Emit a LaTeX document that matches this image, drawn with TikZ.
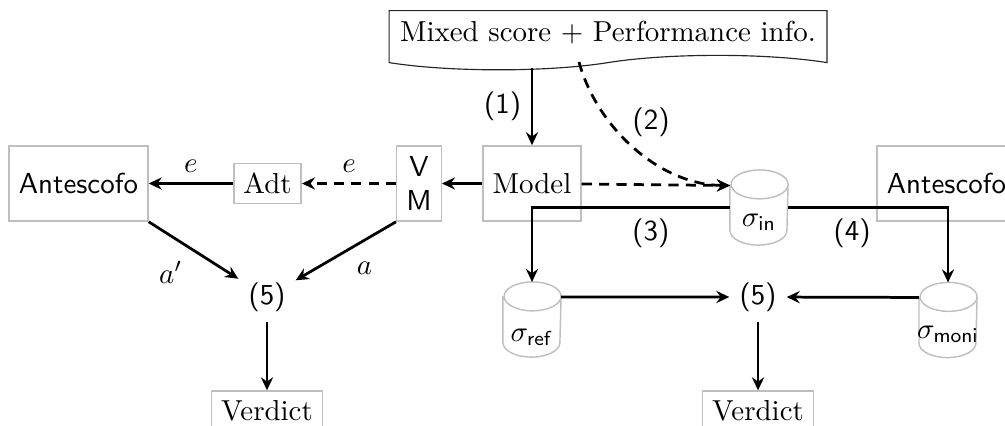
\documentclass[tikz,border=0pt]{standalone}
\usetikzlibrary{arrows.meta,shapes.symbols,calc}
\tikzset{
  px/.style={x=0.346pt,y=-0.346pt},
  box/.style={draw=black!25,line width=0.5pt,rectangle,inner sep=3.33pt},
  cyl/.style={rectangle,inner sep=0pt,minimum width=19.7pt,minimum height=25.6pt},
  arr/.style={line width=0.95pt,-{Stealth[length=4.5pt,width=4.2pt,inset=1.5pt]}},
  darr/.style={arr,dashed,dash pattern=on 3.5pt off 2.5pt},
  lab/.style={font=\sffamily},
}
\newcommand\mycyl[1]{%
  \draw[draw=black!25,line width=0.5pt] ([yshift=-5pt]#1.north west) -- ([yshift=5pt]#1.south west)
    arc[start angle=180,end angle=360,x radius=9.85pt,y radius=5pt]
    -- ([yshift=-5pt]#1.north east)
    arc[start angle=0,end angle=180,x radius=9.85pt,y radius=5pt]
    arc[start angle=180,end angle=360,x radius=9.85pt,y radius=5pt];}
\begin{document}
\begin{tikzpicture}[px]
\useasboundingbox (0,0) rectangle (1005,426);
% top tape
\node[tape,draw=black!85,line width=0.4pt,tape bend top=none,inner sep=3.8pt] (top) at (608,33) {Mixed score + Performance info.};
% boxes
\node[box,minimum width=48.1pt,minimum height=26pt,font=\sffamily] (antL) at (78.5,183.5) {Antescofo};
\node[box] (adt) at (267.5,183.5) {Adt};
\node[box,minimum width=15.2pt,minimum height=26pt,font=\sffamily,align=center] (vm) at (419,183.5) {V\\M};
\node[box,minimum width=33.9pt,minimum height=26pt] (model) at (532,183.5) {Model};
\node[box,minimum width=48.1pt,minimum height=26pt,font=\sffamily] (antR) at (946.5,183.5) {Antescofo};
\node[box,minimum width=37.4pt] (verL) at (267,411) {Verdict};
\node[box,minimum width=37.4pt] (verR) at (758,411) {Verdict};
\node[lab] (fiveL) at (267,297) {(5)};
\node[lab] (fiveR) at (758,297) {(5)};
% cylinders
\node[cyl] (sin) at (759,207.5) {};
\node[cyl] (sref) at (532,319.5) {};
\node[cyl] (smoni) at (948,320) {};
\mycyl{sin}\mycyl{sref}\mycyl{smoni}
\node (tin) at (759,222) {$\sigma_{\mathsf{in}}$};
\node (tref) at (532,337) {$\sigma_{\mathsf{ref}}$};
\node (tmoni) at (948,334) {$\sigma_{\mathsf{moni}}$};
% connectors
\coordinate (c1) at (532,68);
\coordinate (c2) at (579,62);
\draw[arr] (c1) -- node[left,lab] {(1)} (model);
\draw[darr] (c2) .. controls (597,128) and (660,185) .. node[pos=0.33,right=4pt,lab] {(2)} ([yshift=7.6pt]sin.west);
\draw[darr] (model) -- ([yshift=7.6pt]sin.west);
\draw[arr] (model) -- (vm);
\draw[darr] (vm) -- node[above] {$e$} (adt);
\draw[arr] (adt) -- node[above] {$e$} (antL);
\draw[arr] (antL.south east) -- node[below left] {$a'$} (fiveL);
\draw[arr] (vm.south west) -- node[below right] {$a$} (fiveL);
\draw[arr] (fiveL) -- (verL);
\draw[arr] (sin.west) -| node[pos=0.2,below,lab] {(3)} (sref.north);
\draw[arr] (sin.east) -| node[pos=0.2,below,lab] {(4)} (smoni.north);
\draw[arr] ([yshift=7.8pt]sref.east) -- (fiveR);
\draw[arr] ([yshift=7.8pt]smoni.west) -- (fiveR);
\draw[arr] (fiveR) -- (verR);
\end{tikzpicture}
\end{document}
